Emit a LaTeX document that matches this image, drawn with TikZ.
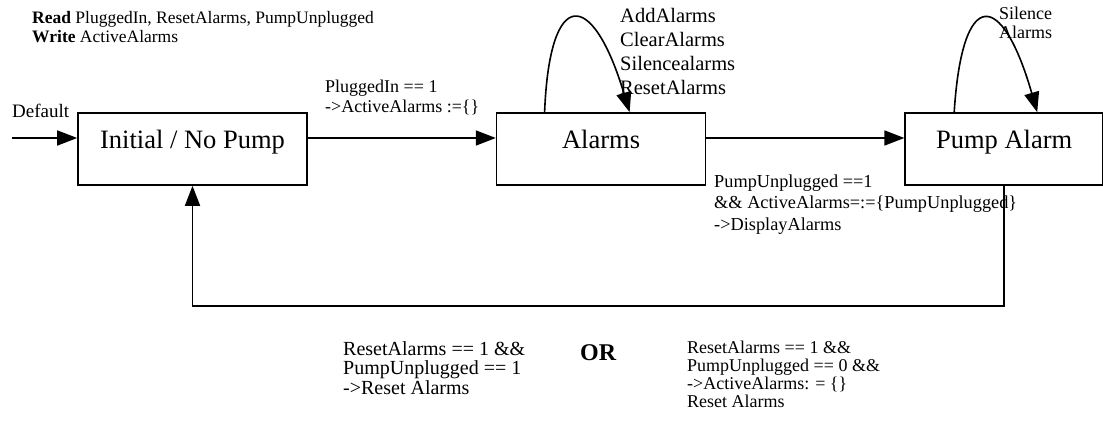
\documentclass[tikz,border=0pt]{standalone}
\usepackage{fontspec}
\setmainfont{Liberation Serif}
\usetikzlibrary{positioning,arrows.meta}

\begin{document}
\begin{tikzpicture}[
    x=1pt, y=-1pt,
    statebox/.style={rectangle, draw, line width=1.6pt, minimum height=72pt, text height=12pt, text depth=12pt, inner sep=0pt, font=\fontsize{26.5}{28}\selectfont},
    cond/.style={align=left, inner sep=0pt, anchor=base west},
    arrow/.style={-{Triangle[length=20pt, width=15pt]}, line width=1.6pt},
]
\useasboundingbox (0,0) rectangle (1103,425);

% States
\node[statebox, minimum width=229pt] (init) at (192.5,149) {Initial / No Pump};
\node[statebox, minimum width=209pt, right=188pt of init] (alarms) {Alarms};
\node[statebox, minimum width=198pt, right=198pt of alarms] (pump) {Pump Alarm};

% Read / write list (base = last line)
\node[cond, font=\fontsize{17.5}{19}\selectfont] (rw) at (32,43) {\textbf{Read} PluggedIn, ResetAlarms, PumpUnplugged\\\textbf{Write} ActiveAlarms};

% Transitions
\coordinate (start) at (12,138);
\node[cond, font=\fontsize{19}{20}\selectfont] (default) at (12,118) {Default};
\draw[arrow] (start) -- (start -| init.west);
\draw[arrow] ([yshift=11pt]init.east) -- ([yshift=11pt]alarms.west);
\draw[arrow] ([yshift=11pt]alarms.east) -- ([yshift=11pt]pump.west);
\node[cond, font=\fontsize{18}{20}\selectfont] (plugged) at (325,113) {PluggedIn == 1\\->ActiveAlarms :=\{\}};
\node[cond, font=\fontsize{18.3}{21.5}\selectfont] (unplugged) at (714,230) {PumpUnplugged ==1\\\&\& ActiveAlarms=:=\{PumpUnplugged\}\\->DisplayAlarms};

% Self loops
\draw[arrow] ([xshift=-56.5pt]alarms.north) .. controls +(5,-127) and +(-37,-123) .. ([xshift=28.5pt]alarms.north);
\node[cond, font=\fontsize{20.5}{24.3}\selectfont] (events) at (620,95) {AddAlarms\\ClearAlarms\\Silencealarms\\ResetAlarms};
\draw[arrow] ([xshift=-50pt]pump.north) .. controls +(8,-127) and +(-35,-122) .. ([xshift=33pt]pump.north);
\node[cond, font=\fontsize{18}{19}\selectfont] (silence) at (999,39) {Silence\\Alarms};

% Reset back to initial
\coordinate (back) at (0,306);
\draw[arrow] (pump.south) -- (pump.south |- back) -| (init.south);
\node[cond, font=\fontsize{20}{19.5}\selectfont] (reset1) at (343,394) {ResetAlarms == 1 \&\&\\PumpUnplugged == 1\\->Reset Alarms};
\node[cond, font=\fontsize{24}{26}\selectfont\bfseries] (orlabel) at (580,360) {OR};
\node[cond, font=\fontsize{18}{18}\selectfont] (reset2) at (687,407) {ResetAlarms == 1 \&\&\\PumpUnplugged == 0 \&\&\\->ActiveAlarms: = \{\}\\Reset Alarms};

\end{tikzpicture}
\end{document}
